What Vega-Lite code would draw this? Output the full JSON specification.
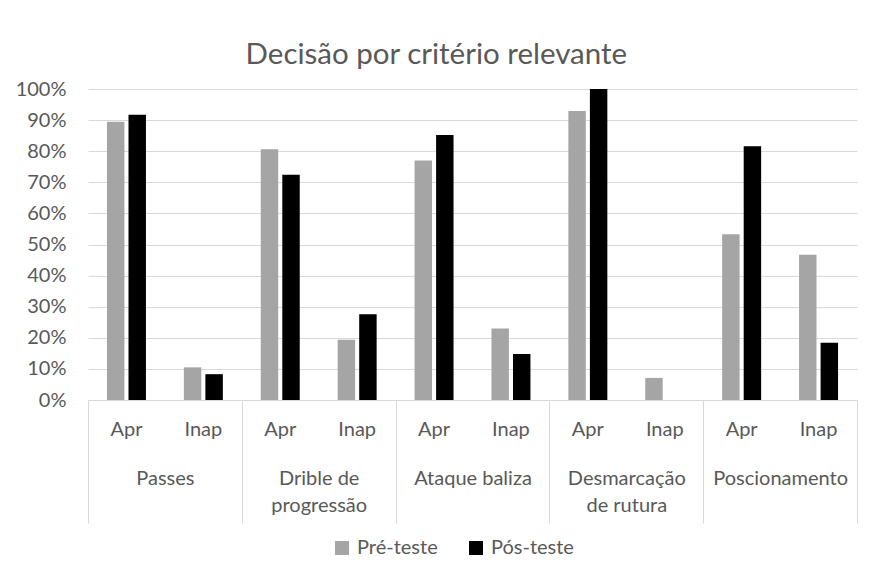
{
  "$schema": "https://vega.github.io/schema/vega-lite/v6.json",
  "width": 769,
  "height": 311,
  "autosize": {"type": "none"},
  "padding": {"left": 88, "top": 89, "right": 19, "bottom": 178},
  "background": "white",
  "title": {
    "text": "Decisão por critério relevante",
    "font": "Lato",
    "fontSize": 29.5,
    "fontWeight": "normal",
    "color": "#595959",
    "anchor": "middle",
    "frame": "bounds",
    "offset": 9
  },
  "config": {
    "view": {"stroke": null},
    "font": "Lato",
    "axis": {"labelFont": "Lato", "labelColor": "#595959", "labelFontSize": 20},
    "legend": {"labelFont": "Lato", "labelColor": "#595959", "labelFontSize": 20}
  },
  "data": {
    "values": [
      {"grupo": "Passes", "item": "Passes|Apr", "serie": "Pré-teste", "valor": 0.895},
      {"grupo": "Passes", "item": "Passes|Apr", "serie": "Pós-teste", "valor": 0.917},
      {"grupo": "Passes", "item": "Passes|Inap", "serie": "Pré-teste", "valor": 0.105},
      {"grupo": "Passes", "item": "Passes|Inap", "serie": "Pós-teste", "valor": 0.083},
      {"grupo": "Drible de progressão", "item": "Drible de progressão|Apr", "serie": "Pré-teste", "valor": 0.806},
      {"grupo": "Drible de progressão", "item": "Drible de progressão|Apr", "serie": "Pós-teste", "valor": 0.724},
      {"grupo": "Drible de progressão", "item": "Drible de progressão|Inap", "serie": "Pré-teste", "valor": 0.194},
      {"grupo": "Drible de progressão", "item": "Drible de progressão|Inap", "serie": "Pós-teste", "valor": 0.276},
      {"grupo": "Ataque baliza", "item": "Ataque baliza|Apr", "serie": "Pré-teste", "valor": 0.77},
      {"grupo": "Ataque baliza", "item": "Ataque baliza|Apr", "serie": "Pós-teste", "valor": 0.852},
      {"grupo": "Ataque baliza", "item": "Ataque baliza|Inap", "serie": "Pré-teste", "valor": 0.23},
      {"grupo": "Ataque baliza", "item": "Ataque baliza|Inap", "serie": "Pós-teste", "valor": 0.148},
      {"grupo": "Desmarcação de rutura", "item": "Desmarcação de rutura|Apr", "serie": "Pré-teste", "valor": 0.929},
      {"grupo": "Desmarcação de rutura", "item": "Desmarcação de rutura|Apr", "serie": "Pós-teste", "valor": 1.0},
      {"grupo": "Desmarcação de rutura", "item": "Desmarcação de rutura|Inap", "serie": "Pré-teste", "valor": 0.071},
      {"grupo": "Desmarcação de rutura", "item": "Desmarcação de rutura|Inap", "serie": "Pós-teste", "valor": 0.0},
      {"grupo": "Poscionamento", "item": "Poscionamento|Apr", "serie": "Pré-teste", "valor": 0.533},
      {"grupo": "Poscionamento", "item": "Poscionamento|Apr", "serie": "Pós-teste", "valor": 0.816},
      {"grupo": "Poscionamento", "item": "Poscionamento|Inap", "serie": "Pré-teste", "valor": 0.467},
      {"grupo": "Poscionamento", "item": "Poscionamento|Inap", "serie": "Pós-teste", "valor": 0.184}
    ]
  },
  "layer": [
    {
      "mark": {"type": "bar"},
      "encoding": {
        "x": {
          "field": "item",
          "type": "nominal",
          "sort": null,
          "scale": {"paddingInner": 0, "paddingOuter": 0},
          "axis": {
            "orient": "bottom",
            "title": null,
            "ticks": false,
            "grid": false,
            "domainColor": "#d9d9d9",
            "domainWidth": 1,
            "labelAngle": 0,
            "labelPadding": 19,
            "labelBaseline": "top",
            "labelOverlap": false,
            "labelBound": false,
            "labelFlush": false,
            "labelExpr": "split(datum.label, '|')[1]"
          }
        },
        "xOffset": {
          "field": "serie",
          "type": "nominal",
          "sort": ["Pré-teste", "Pós-teste"],
          "scale": {"paddingInner": 0.19, "paddingOuter": 0.88}
        },
        "y": {
          "field": "valor",
          "type": "quantitative",
          "scale": {"domain": [0, 1]},
          "axis": {
            "title": null,
            "format": ".0%",
            "values": [0, 0.1, 0.2, 0.3, 0.4, 0.5, 0.6, 0.7, 0.8, 0.9, 1],
            "domain": false,
            "ticks": false,
            "grid": true,
            "gridColor": "#d9d9d9",
            "gridWidth": 1,
            "labelPadding": 22
          }
        },
        "color": {
          "field": "serie",
          "type": "nominal",
          "scale": {"domain": ["Pré-teste", "Pós-teste"], "range": ["#a5a5a5", "#000000"]},
          "legend": {
            "title": null,
            "orient": "none",
            "legendX": 244,
            "legendY": 449,
            "direction": "horizontal",
            "padding": 0,
            "symbolType": "square",
            "symbolSize": 196,
            "symbolStrokeWidth": 0,
            "labelOffset": 5,
            "columnPadding": 28
          }
        }
      }
    },
    {
      "mark": {"type": "text"},
      "encoding": {
        "x": {
          "field": "grupo",
          "type": "nominal",
          "sort": null,
          "scale": {"paddingInner": 0, "paddingOuter": 0},
          "axis": {
            "orient": "bottom",
            "title": null,
            "domain": false,
            "grid": false,
            "ticks": true,
            "tickBand": "extent",
            "tickSize": 123,
            "tickColor": "#d9d9d9",
            "tickWidth": 1,
            "labelAngle": 0,
            "labelBaseline": "top",
            "labelPadding": -55,
            "labelLineHeight": 27,
            "labelOverlap": false,
            "labelBound": false,
            "labelFlush": false,
            "labelExpr": "datum.label == 'Drible de progressão' ? ['Drible de', 'progressão'] : datum.label == 'Desmarcação de rutura' ? ['Desmarcação', 'de rutura'] : datum.label"
          }
        },
        "text": {"value": ""}
      }
    }
  ],
  "resolve": {"scale": {"x": "independent"}, "axis": {"x": "independent"}}
}
